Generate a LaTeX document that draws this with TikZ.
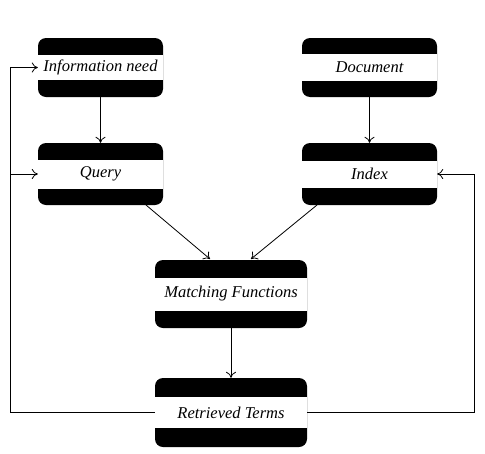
\documentclass[tikz,border=0pt]{standalone}
\usepackage{fontspec}
\setmainfont{Liberation Serif}
\usetikzlibrary{arrows.meta}
\tikzset{
  termbox/.style args={#1/#2/#3}{rounded corners=8pt, fill=black, inner sep=0pt,
    minimum width=#1, minimum height=#2,
    font=\fontsize{16.5}{19}\selectfont\itshape,
    path picture={\fill[white, sharp corners] ([yshift=-#3/2]path picture bounding box.west) rectangle ([yshift=#3/2]path picture bounding box.east);}},
  conn/.style={draw=black, line width=0.8pt, -{To[length=6pt,width=10pt]}},
  fb/.style={draw=black, line width=0.8pt}
}
\begin{document}
\begin{tikzpicture}[x=1pt,y=-1pt]
\useasboundingbox[fill=white] (0,0) rectangle (485,453);
\node[termbox=125pt/59pt/25pt] (info) at (100.5,67.5) {Information need};
\node[termbox=125pt/62pt/29pt] (query) at (100.5,174) {Query};
\node[termbox=135pt/59pt/27pt] (doc) at (369.5,67.5) {Document};
\node[termbox=135pt/62pt/27pt] (index) at (369.5,174) {Index};
\node[termbox=152pt/68pt/33pt] (match) at (231,294) {Matching Functions};
\node[termbox=152pt/69pt/31pt] (ret) at (231,412.5) {Retrieved Terms};
\coordinate (lb) at (10,412.5);
\coordinate (rb) at (474,412.5);
\draw[conn] (info.south) -- (query.north);
\draw[conn] (doc.south) -- (index.north);
\draw[conn] (146,205) -- (210,259);
\draw[conn] (317,205) -- (251,259);
\draw[conn] (match.south) -- (ret.north);
\draw[fb] (ret.west) -- (lb);
\draw[conn] (lb) |- (info.west);
\draw[conn] (lb |- query.west) -- (query.west);
\draw[conn] (ret.east) -- (rb) |- (index.east);
\end{tikzpicture}
\end{document}
